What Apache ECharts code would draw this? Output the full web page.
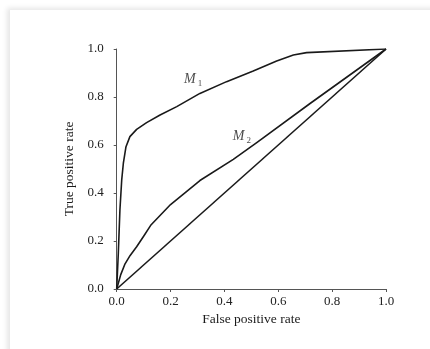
<!DOCTYPE html>
<html><head><meta charset="utf-8">
<script src="https://cdn.jsdelivr.net/npm/echarts@6/dist/echarts.min.js"></script>
<style>
html,body{margin:0;padding:0;background:#fff;width:430px;height:349px;overflow:hidden;}
#shade{position:absolute;left:0;top:0;width:430px;height:349px;background:#fff;}
#frame{position:absolute;left:10px;top:10px;width:430px;height:349px;background:#fff;box-shadow:-3px -2px 5px rgba(0,0,0,0.10);}
#c{position:absolute;left:0;top:0;width:430px;height:349px;}
</style></head>
<body>
<div id="shade"></div><div id="frame"></div>
<div id="c"></div>
<script>
// Data
const xTicks = [0, 0.2, 0.4, 0.6, 0.8, 1.0];
const yTicks = [0, 0.2, 0.4, 0.6, 0.8, 1.0];
const m1X = [0, 0.006, 0.012, 0.0186, 0.0247, 0.0345, 0.049, 0.074, 0.111, 0.161, 0.223, 0.309, 0.408, 0.507, 0.594, 0.656, 0.705, 1.0];
const m1Y = [0, 0.15, 0.33, 0.454, 0.524, 0.593, 0.635, 0.665, 0.693, 0.725, 0.76, 0.815, 0.864, 0.908, 0.95, 0.975, 0.985, 1.0];
const m2X = [0, 0.015, 0.031, 0.05, 0.074, 0.1, 0.128, 0.2, 0.309, 0.433, 0.52, 0.718, 1.0];
const m2Y = [0, 0.06, 0.105, 0.14, 0.176, 0.22, 0.268, 0.352, 0.452, 0.54, 0.61, 0.773, 1.0];
const diagX = [0, 1];
const diagY = [0, 1];
const labels = [{name: 'M', sub: '1', x: 0.284, y: 0.872}, {name: 'M', sub: '2', x: 0.465, y: 0.635}];

const zip = (a, b) => a.map((v, i) => [v, b[i]]);
const font = 'Liberation Serif';
const chart = echarts.init(document.getElementById('c'), null, {renderer: 'canvas'});
const lineStyle = {color: '#1a1a1a', width: 1.6, join: 'round'};
chart.setOption({
  animation: false,
  grid: {left: 116.7, right: 44, top: 49, bottom: 60, containLabel: false},
  xAxis: {
    type: 'value', min: 0, max: 1, interval: 0.2,
    name: 'False positive rate', nameLocation: 'middle', nameGap: 21,
    nameTextStyle: {fontFamily: font, fontSize: 13.5, color: '#1a1a1a'},
    axisLine: {show: true, lineStyle: {color: '#555', width: 1}},
    axisTick: {show: true, length: 3, lineStyle: {color: '#555'}},
    axisLabel: {fontFamily: font, fontSize: 13, color: '#222', margin: 6,
      formatter: v => v.toFixed(1)},
    splitLine: {show: false}
  },
  yAxis: {
    type: 'value', min: 0, max: 1, interval: 0.2,
    name: 'True positive rate', nameLocation: 'middle', nameGap: 37,
    nameTextStyle: {fontFamily: font, fontSize: 13.5, color: '#1a1a1a'},
    axisLine: {show: true, lineStyle: {color: '#555', width: 1}},
    axisTick: {show: true, length: 3, lineStyle: {color: '#555'}},
    axisLabel: {fontFamily: font, fontSize: 13, color: '#222', margin: 13,
      formatter: v => v.toFixed(1)},
    splitLine: {show: false}
  },
  series: [
    {type: 'line', data: zip(m1X, m1Y), showSymbol: false, smooth: false, lineStyle: lineStyle, z: 3},
    {type: 'line', data: zip(m2X, m2Y), showSymbol: false, smooth: false, lineStyle: lineStyle, z: 3},
    {type: 'line', data: zip(diagX, diagY), showSymbol: false, lineStyle: lineStyle, z: 3},
    {type: 'scatter', data: labels.map(l => [l.x, l.y]), symbolSize: 0,
      label: {show: true, position: 'inside',
        formatter: p => '{m|' + labels[p.dataIndex].name + '}{s|' + labels[p.dataIndex].sub + '}',
        rich: {
          m: {fontFamily: font, fontStyle: 'italic', fontSize: 14, color: '#1a1a1a'},
          s: {fontFamily: font, fontSize: 9, color: '#1a1a1a', verticalAlign: 'bottom', padding: [8, 0, 0, 2]}
        }}, z: 4}
  ]
});
</script>
</body></html>
